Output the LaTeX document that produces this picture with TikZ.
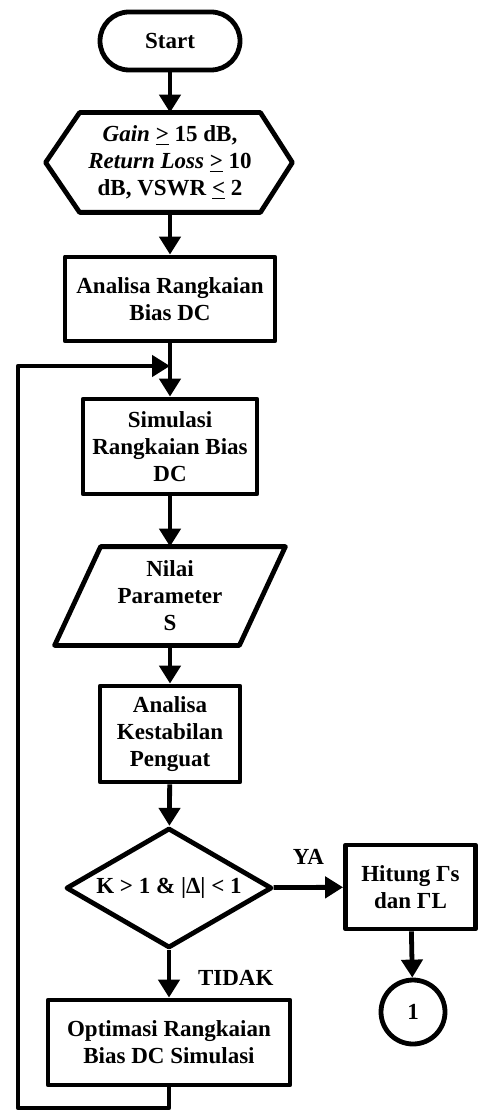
\documentclass[tikz,border=0pt]{standalone}
\usepackage{fontspec}
\setmainfont{Liberation Serif}
\usetikzlibrary{arrows.meta,shapes.geometric}
\newcommand{\uge}{\underline{>}}
\newcommand{\ule}{\underline{<}}
\begin{document}
\begin{tikzpicture}[x=0.5pt,y=-0.5pt,line width=2.4pt,line join=round,font=\fontsize{11.5}{13.5}\selectfont\bfseries,
    box/.style={draw,rectangle,align=center,inner sep=0pt},
    flow/.style={-{Triangle[width=10.5pt,length=9pt]}}]
\useasboundingbox (0,0) rectangle (478,1111);
\node[box,rounded corners=14.5pt,minimum width=70pt,minimum height=29pt] (start) at (170,41) {Start};
\node[align=center,inner sep=0pt,minimum width=88pt,minimum height=47.5pt] (spec) at (170,162.5)
    {\textit{Gain} \uge{} 15 dB,\\\textit{Return Loss} \uge{} 10\\dB, VSWR \ule{} 2};
\draw (spec.north west) -- (spec.north east) -- ([xshift=16pt]spec.east) -- (spec.south east)
    -- (spec.south west) -- ([xshift=-17pt]spec.west) -- cycle;
\node[box,minimum width=105pt,minimum height=42pt] (bias) at (170,299) {Analisa Rangkaian\\Bias DC};
\coordinate (join) at (170,366);
\node[box,minimum width=87pt,minimum height=47.5pt] (simul) at (170,446.5) {Simulasi\\Rangkaian Bias\\DC};
\node[align=center,inner sep=0pt,minimum width=90pt,minimum height=47pt] (param) at (170,596) {Nilai\\Parameter\\S};
\draw ([xshift=11.5pt]param.north west) -- ([xshift=11.5pt]param.north east) -- ([xshift=-11.5pt]param.south east)
    -- ([xshift=-11.5pt]param.south west) -- cycle;
\node[box,minimum width=70pt,minimum height=48pt] (stabil) at (170,734) {Analisa\\Kestabilan\\Penguat};
\node[draw,diamond,inner sep=0pt,shape aspect=1.72,minimum width=103pt,minimum height=60pt] (cek) at (169,888)
    {K > 1 \& |Δ| < 1};
\node[box,minimum width=121pt,minimum height=42.5pt] (optim) at (169,1042.5) {Optimasi Rangkaian\\Bias DC Simulasi};
\node[box,minimum width=65pt,minimum height=42pt] (gamma) at (410.5,887) {Hitung Γs\\dan ΓL};
\node[draw,circle,inner sep=0pt,minimum size=32pt] (konek) at (413,1012) {1};
\coordinate (loopb) at (18,1108);
\coordinate (loopt) at (18,366);

\draw[flow] (start) -- (spec);
\draw[flow] (spec) -- (bias);
\draw[flow] (bias) -- (simul);
\draw[flow] (simul) -- (param);
\draw[flow] (param) -- (stabil);
\draw[flow] (stabil) -- (cek);
\draw[flow] (cek) -- node[above,yshift=7pt] {YA} (gamma);
\draw[flow] (cek) -- node[right,xshift=10pt,yshift=-2pt] {TIDAK} (optim);
\draw[flow] (gamma) -- (konek);
\draw[flow] (optim.south) |- (loopb) -- (loopt) -- (join);
\end{tikzpicture}
\end{document}
